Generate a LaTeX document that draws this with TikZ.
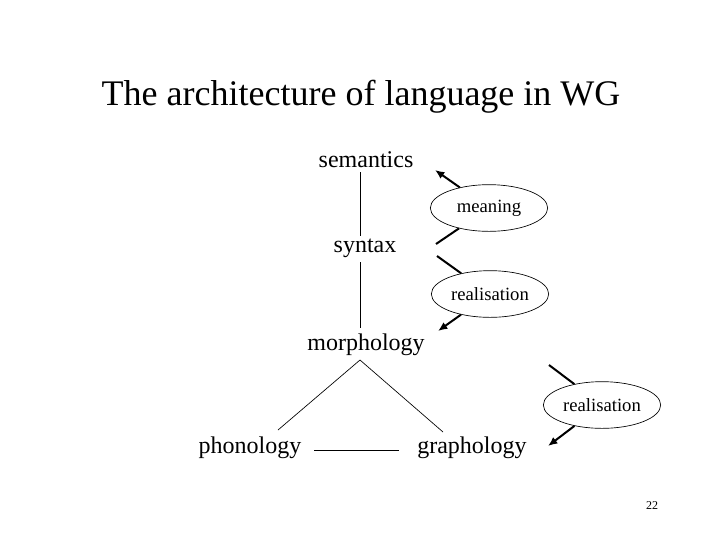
\documentclass[tikz,border=0pt]{standalone}
\usepackage{fontspec}
\setmainfont{Liberation Serif}
\usetikzlibrary{shapes.geometric,arrows.meta}
\begin{document}
\begin{tikzpicture}[x=0.75pt,y=-0.75pt,
  lbl/.style={font=\fontsize{18}{20}\selectfont,inner sep=1pt},
  rel/.style={ellipse,draw,line width=0.5pt,font=\fontsize{14}{16}\selectfont,minimum width=88pt,minimum height=35pt,inner sep=0pt},
  thin/.style={line width=0.5pt},
  thick/.style={line width=1.5pt},
  arr/.style={line width=1.5pt,-{Latex[length=7pt,width=6pt]}}]
\useasboundingbox (0,0) rectangle (720,540);
\node (title) at (361,97) {\fontsize{27}{30}\selectfont The architecture of language in WG};
\node[lbl] (sem) at (366,160) {semantics};
\node[lbl] (syn) at (365,248) {syntax};
\node[lbl] (mor) at (366,345) {morphology};
\node[lbl] (pho) at (250,448) {phonology};
\node[lbl] (gra) at (472,448) {graphology};
\node[rel] (m) at (489,208) {meaning};
\node[rel] (r1) at (490,294) {realisation};
\node[rel] (r2) at (602,405) {realisation};
\node[font=\fontsize{9}{10}\selectfont] (n) at (652,506) {22};
\coordinate (a1) at (360,172); \coordinate (a2) at (360,236);
\coordinate (b1) at (360,262); \coordinate (b2) at (360,328);
\coordinate (c) at (360,360);
\coordinate (p) at (278,430); \coordinate (g) at (443,432);
\coordinate (h1) at (314,450); \coordinate (h2) at (399,450);
\draw[thin] (a1) -- (a2);
\draw[thin] (b1) -- (b2);
\draw[thin] (p) -- (c) -- (g);
\draw[thin] (h1) -- (h2);
\coordinate (s1) at (435,170); \coordinate (t1) at (436,244);
\coordinate (t2) at (437,256); \coordinate (t3) at (438,331);
\coordinate (t4) at (549,365); \coordinate (t5) at (548,446);
\draw[arr] (m) -- (s1);
\draw[thick] (t1) -- (m);
\draw[thick] (t2) -- (r1);
\draw[arr] (r1) -- (t3);
\draw[thick] (t4) -- (r2);
\draw[arr] (r2) -- (t5);
\end{tikzpicture}
\end{document}
